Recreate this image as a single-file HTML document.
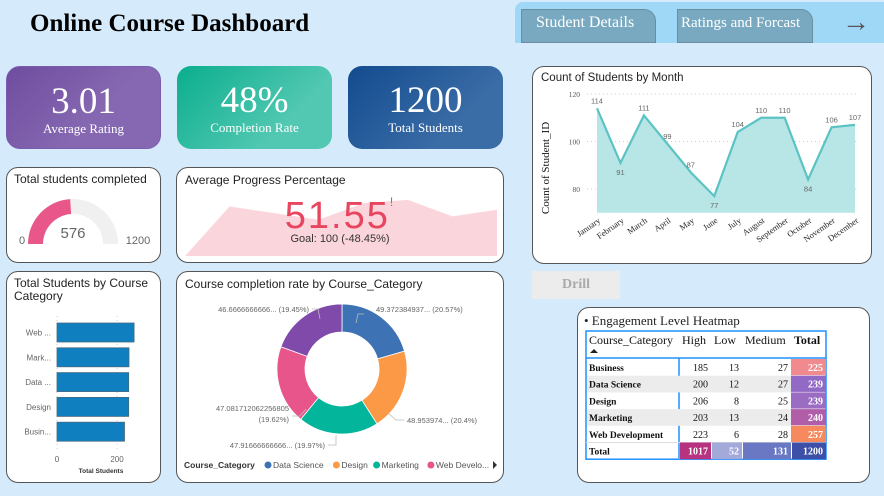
<!DOCTYPE html>
<html><head><meta charset="utf-8"><style>
*{box-sizing:border-box;margin:0;padding:0}
body{width:884px;height:496px;background:#d5ebfb;position:relative;overflow:hidden;font-family:"Liberation Sans",sans-serif}
.card{position:absolute;background:#fff;border:1.3px solid #555;border-radius:12px}
.title{position:absolute;font-size:12px;color:#222;left:8px;top:5px}
.kpi{position:absolute;top:66px;width:155px;height:83px;border-radius:14px;color:#fff;text-align:center;font-family:"Liberation Serif",serif}
.kpi .v{font-size:37px;margin-top:15px;line-height:40px}
.kpi .l{font-size:13px;margin-top:-1px}
svg{font-family:"Liberation Sans",sans-serif}
</style></head><body>
<div style="position:absolute;left:30px;top:10px;font:bold 25px 'Liberation Serif',serif;color:#000">Online Course Dashboard</div>
<div style="position:absolute;left:515px;top:2px;width:369px;height:41px;background:#9ed8f6;border-radius:8px 0 0 0"></div>
<div style="position:absolute;left:521px;top:9px;width:135px;height:34px;background:#79a9c0;border:1px solid #6a8ea0;border-radius:0 12px 0 0;color:#fff;font:16px 'Liberation Serif',serif;padding:4px 0 0 14px">Student Details</div>
<div style="position:absolute;left:677px;top:9px;width:136px;height:34px;background:#79a9c0;border:1px solid #6a8ea0;border-radius:0 12px 0 0;color:#fff;font:15px 'Liberation Serif',serif;padding:5px 0 0 3px">Ratings and Forcast</div>
<div style="position:absolute;left:842px;top:6px;font-size:28px;color:#555">&#8594;</div>

<div class="kpi" style="left:6px;background:linear-gradient(135deg,#6f4d9f,#8668b2 60%);border:1px solid #7c5cb0"><div class="v">3.01</div><div class="l">Average Rating</div></div>
<div class="kpi" style="left:177px;background:linear-gradient(135deg,#0aae8e,#52c8b2 70%)"><div class="v">48%</div><div class="l">Completion Rate</div></div>
<div class="kpi" style="left:348px;background:linear-gradient(135deg,#124b8f,#3a6ca6 70%)"><div class="v">1200</div><div class="l">Total Students</div></div>

<div class="card" style="left:6px;top:167px;width:155px;height:96px">
<div class="title" style="left:7px;top:4px">Total students completed</div>
<svg width="155" height="96" style="position:absolute;left:-1px;top:-1px" id="gsvg"></svg>
</div>
<div class="card" style="left:176px;top:167px;width:328px;height:96px">
<div class="title">Average Progress Percentage</div>
<svg width="328" height="96" style="position:absolute;left:-1px;top:-1px" id="psvg"></svg>
<div style="position:absolute;left:0;width:100%;text-align:center;top:27px;font-size:38px;color:#e8455f;letter-spacing:2px">51.55<span style="font-size:12px;vertical-align:top">!</span></div>
<div style="position:absolute;left:0;width:100%;text-align:center;top:65px;font-size:11px;color:#333">Goal: 100 (-48.45%)</div>
</div>

<div class="card" style="left:6px;top:271px;width:155px;height:212px">
<div class="title" style="left:7px;top:5px;line-height:13px">Total Students by Course<br>Category</div>
<svg width="155" height="212" style="position:absolute;left:-1px;top:-1px" id="bsvg"></svg>
</div>

<div class="card" style="left:176px;top:271px;width:328px;height:212px">
<div class="title">Course completion rate by Course_Category</div>
<svg width="328" height="212" style="position:absolute;left:-1px;top:-1px" id="dsvg"></svg>
</div>

<div class="card" style="left:532px;top:66px;width:340px;height:198px">
<div class="title" style="top:5px;font-size:11.5px">Count of Students by Month</div>
<svg width="340" height="198" style="position:absolute;left:-1px;top:-1px" id="lsvg"></svg>
</div>

<div style="position:absolute;left:532px;top:271px;width:88px;height:28px;background:#ececec;color:#aaa;font:bold 14px 'Liberation Serif',serif;text-align:center;line-height:28px">Drill</div>

<div class="card" style="left:577px;top:307px;width:293px;height:176px">
<div style="position:absolute;left:6px;top:5px;font:13px 'Liberation Serif',serif;color:#222">• Engagement Level Heatmap</div>
<svg width="293" height="176" style="position:absolute;left:-1px;top:-1px" id="hsvg"></svg>
</div>

<script>
const NS='http://www.w3.org/2000/svg';
function mk(p,t,a,txt){const e=document.createElementNS(NS,t);for(const k in a)e.setAttribute(k,a[k]);if(txt!==undefined)e.textContent=txt;p.appendChild(e);return e;}

// gauge
const gaugeValue=576, gaugeMax=1200;
(function(){const s=document.getElementById('gsvg');const cx=67,cy=77,R=45,r=30;
function arc(a0,a1,col,name){const p=(a,rr)=>[cx-rr*Math.cos(a),cy-rr*Math.sin(a)];const [x0,y0]=p(a0,R),[x1,y1]=p(a1,R),[x2,y2]=p(a1,r),[x3,y3]=p(a0,r);
const e=mk(s,'path',{d:`M${x0},${y0}A${R},${R} 0 0 1 ${x1},${y1}L${x2},${y2}A${r},${r} 0 0 0 ${x3},${y3}Z`,fill:col});

}
arc(0,Math.PI,'#f1f0f0','gauge-track');arc(0,Math.PI*gaugeValue/gaugeMax,'#e8568a','gauge-fill');
mk(s,'text',{x:cx,y:cy-6,'text-anchor':'middle','font-size':15,fill:'#666'},gaugeValue);
mk(s,'text',{x:16,y:77,'text-anchor':'middle','font-size':11,fill:'#666'},'0');
mk(s,'text',{x:132,y:77,'text-anchor':'middle','font-size':11,fill:'#666'},gaugeMax);})();

// progress sparkline
const progressTrend=[52,60,58,56,61,62,57,59];
(function(){const s=document.getElementById('psvg');const x0=9,x1=321,yb=89;const y=v=>yb-(v-45)*3.3;
let d=`M${x0},${yb}`;progressTrend.forEach((v,i)=>{d+=`L${x0+i*(x1-x0)/(progressTrend.length-1)},${i==0?yb:y(v)}`});d+=`L${x1},${yb}Z`;
const e=mk(s,'path',{d,fill:'#fbd5dc'});

})();

// bar chart
const barCats=['Web ...','Mark...','Data ...','Design','Busin...'];
const barVals=[257,240,239,239,225];
const barTicks=[0,200];
(function(){const s=document.getElementById('bsvg');const xs=v=>51+v*0.3;const top=52,step=24.8,bh=19;
barTicks.forEach(t=>{mk(s,'line',{x1:xs(t),x2:xs(t),y1:45,y2:178,stroke:'#ccc','stroke-dasharray':'1,3'});mk(s,'text',{x:xs(t),y:191,'text-anchor':'middle','font-size':8,fill:'#666'},t);});
barVals.forEach((v,i)=>{const y=top+i*step;const r=mk(s,'rect',{x:xs(0),y,width:xs(v)-xs(0),height:bh,fill:'#0f7fc0',stroke:'#4a6a80','stroke-width':0.8});


mk(s,'text',{x:45,y:y+bh/2+3,'text-anchor':'end','font-size':8,fill:'#666'},barCats[i]);});
mk(s,'text',{x:95,y:202,'text-anchor':'middle','font-size':6.5,fill:'#333','font-weight':'bold'},'Total Students');})();

// donut
const donutCats=['Data Science','Design','Marketing','Web Development','Business'];
const donutVals=[49.372384937,48.953974,47.916666666,47.081712062256805,46.666666666];
const donutLabels=['49.372384937... (20.57%)','48.953974... (20.4%)','47.91666666666... (19.97%)','47.081712062256805|(19.62%)','46.6666666666... (19.45%)'];
const donutColors=['#3d72b4','#fc9946','#03b59b','#e8558a','#7f4aa9'];
(function(){const s=document.getElementById('dsvg');const cx=166,cy=98,R=65,r=37;const tot=donutVals.reduce((a,b)=>a+b,0);let a=0;
const lp=[[200,41,'start',[[188,43],[182,43],[180,52]]],[231,152,'start',[[228,149],[220,149],[212,142]]],[149,177,'end',[[152,174],[160,174],[160,164]]],[113,140,'end',[[116,145],[124,145],[130,138]]],[133,41,'end',[[136,38],[142,38],[144,48]]]];
donutVals.forEach((v,i)=>{const a0=a,a1=a+v/tot*2*Math.PI;a=a1;const P=(an,rr)=>[cx+rr*Math.sin(an),cy-rr*Math.cos(an)];
const [x0,y0]=P(a0,R),[x1,y1]=P(a1,R),[x2,y2]=P(a1,r),[x3,y3]=P(a0,r);
const e=mk(s,'path',{d:`M${x0},${y0}A${R},${R} 0 0 1 ${x1},${y1}L${x2},${y2}A${r},${r} 0 0 0 ${x3},${y3}Z`,fill:donutColors[i],stroke:'#fff','stroke-width':0.8});


const parts=donutLabels[i].split('|');const [lx,ly,an,ld]=lp[i];
mk(s,'polyline',{points:ld.map(p=>p.join(',')).join(' '),fill:'none',stroke:'#bbb','stroke-width':0.8});
parts.forEach((t,j)=>mk(s,'text',{x:lx,y:ly+j*11,'text-anchor':an,'font-size':7.5,fill:'#666'},t));});
mk(s,'text',{x:8,y:197,'font-size':8.5,fill:'#333','font-weight':'bold'},'Course_Category');
let lx=89;donutCats.slice(0,4).forEach((c,i)=>{mk(s,'circle',{cx:lx+3,cy:194,r:3.5,fill:donutColors[i]});const t=i==3?'Web Develo...':c;mk(s,'text',{x:lx+8,y:197,'font-size':8.5,fill:'#555'},t);lx+=8+t.length*4.7+4;});
mk(s,'path',{d:'M317,190L321,194L317,198Z',fill:'#333'});})();

// line chart
const months=['January','February','March','April','May','June','July','August','September','October','November','December'];
const monthCounts=[114,91,111,99,87,77,104,110,110,84,106,107];
const yTicks=[80,100,120];
(function(){const s=document.getElementById('lsvg');const x=i=>65+i*(258/11);const y=v=>28+(120-v)*2.375;const yb=y(70);
yTicks.forEach(t=>{mk(s,'line',{x1:55,x2:325,y1:y(t),y2:y(t),stroke:'#ccc','stroke-dasharray':'1,3'});mk(s,'text',{x:48,y:y(t)+3,'text-anchor':'end','font-size':7.5,fill:'#555','font-family':'Liberation Serif'},t);});
let d='',da=`M${x(0)},${yb}`;monthCounts.forEach((v,i)=>{d+=(i?'L':'M')+x(i)+','+y(v);da+=`L${x(i)},${y(v)}`;});da+=`L${x(11)},${yb}Z`;
const ar=mk(s,'path',{d:da,fill:'#b8e5e6'});


const ln=mk(s,'path',{d,fill:'none',stroke:'#5bc3c4','stroke-width':2.2});


const below=[1,5,9];
monthCounts.forEach((v,i)=>{mk(s,'text',{x:x(i),y:below.includes(i)?y(v)+12:y(v)-5,'text-anchor':'middle','font-size':7.5,fill:'#666'},v);
mk(s,'text',{x:x(i)+4,y:yb+9,'text-anchor':'end','font-size':8.5,fill:'#222','font-family':'Liberation Serif',transform:`rotate(-35 ${x(i)+4} ${yb+9})`},months[i]);});
mk(s,'text',{x:17,y:102,'text-anchor':'middle','font-size':11,fill:'#111','font-family':'Liberation Serif',transform:'rotate(-90 17 102)'},'Count of Student_ID');})();

// heatmap
const hmCats=['Business','Data Science','Design','Marketing','Web Development'];
const hmHigh=[185,200,206,203,223];
const hmLow=[13,12,8,13,6];
const hmMed=[27,27,25,24,28];
const hmTotal=[225,239,239,240,257];
const hmTotalColors=['#f08a8f','#9269c4','#9a6cc2','#b05ea8','#f7895f'];
const hmColTotals=[1017,52,131,1200];
const hmColTotalColors=['#b7337f','#a3a9d9','#6a78c4','#3d4fa6'];
(function(){const s=document.getElementById('hsvg');const cols=[9,102,134,165,214,249];const y0=24,hh=27,rh=16.7;const F='Liberation Serif';
mk(s,'rect',{x:cols[0],y:y0,width:cols[5]-cols[0],height:hh+rh*6+1,fill:'#fff',stroke:'#1e90ff','stroke-width':1.5});
['Course_Category','High','Low','Medium','Total'].forEach((h,j)=>mk(s,'text',{x:cols[j]+3,y:y0+13,'font-size':12,fill:'#111','font-family':F,'font-weight':j==4?'bold':'normal'},h));
mk(s,'path',{d:`M${cols[0]+4},${y0+22}L${cols[0]+8},${y0+18}L${cols[0]+12},${y0+22}Z`,fill:'#222'});
mk(s,'line',{x1:cols[0],x2:cols[5],y1:y0+hh,y2:y0+hh,stroke:'#1e90ff','stroke-width':1.5});
mk(s,'line',{x1:cols[1],x2:cols[1],y1:y0+hh,y2:y0+hh+rh*6,stroke:'#1e90ff','stroke-width':1.5});
hmCats.forEach((c,i)=>{const y=y0+hh+1+i*rh;if(i%2)mk(s,'rect',{x:cols[0]+1,y,width:cols[4]-cols[0]-1,height:rh,fill:'#ececec'});
mk(s,'text',{x:cols[0]+3,y:y+12,'font-size':9.5,fill:'#111','font-family':F,'font-weight':'bold'},c);
[hmHigh[i],hmLow[i],hmMed[i]].forEach((v,j)=>mk(s,'text',{x:cols[j+2]-3,y:y+12,'text-anchor':'end','font-size':10,fill:'#111','font-family':F},v));
const r=mk(s,'rect',{x:cols[4],y,width:cols[5]-cols[4],height:rh-0.5,fill:hmTotalColors[i]});


mk(s,'text',{x:cols[5]-3,y:y+12,'text-anchor':'end','font-size':10,fill:'#fff','font-family':F,'font-weight':'bold'},hmTotal[i]);});
const yt=y0+hh+1+5*rh;mk(s,'line',{x1:cols[0],x2:cols[5],y1:yt,y2:yt,stroke:'#ddd'});
mk(s,'text',{x:cols[0]+3,y:yt+12,'font-size':9.5,fill:'#111','font-family':F,'font-weight':'bold'},'Total');
hmColTotals.forEach((v,j)=>{const r=mk(s,'rect',{x:cols[j+1]+1,y:yt,width:cols[j+2]-cols[j+1]-1,height:rh,fill:hmColTotalColors[j]});


mk(s,'text',{x:cols[j+2]-3,y:yt+12,'text-anchor':'end','font-size':10,fill:'#fff','font-family':F,'font-weight':'bold'},v);});})();
</script>
</body></html>
